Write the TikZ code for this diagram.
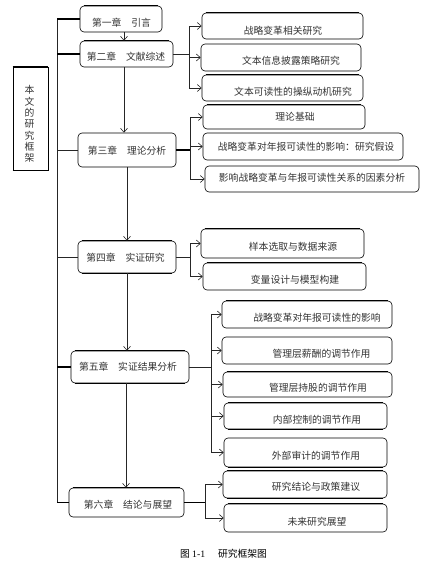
\documentclass[tikz,border=0pt]{standalone}
\usepackage{fontspec}
\newfontfamily\cjk{Noto Sans CJK SC}
\newfontfamily\serifdig{Liberation Serif}
\usetikzlibrary{arrows.meta}
\tikzset{
  box/.style={draw=black, line width=0.6pt, rounded corners=4pt, inner sep=0pt},
  txt/.style={font=\cjk\fontsize{9.8}{11}\selectfont, text=black!80, inner sep=0pt},
  ln/.style={line width=0.6pt, draw=black!85},
  thk/.style={line width=1.5pt, draw=black},
  arr/.style={ln, -{Straight Barb[length=4pt,width=7pt]}},
}
\begin{document}
\begin{tikzpicture}[x=1pt,y=-1pt]
\useasboundingbox (0,0) rectangle (436,565);

% left frame box
\node[box, rounded corners=0pt, minimum width=35pt, minimum height=103pt] (L) at (30.5,118.5) {};
\node[txt, align=center, font=\cjk\fontsize{9.8}{11.3}\selectfont] (Lt) at (29.5,124) {本\\文\\的\\研\\究\\框\\架};

% chapter boxes
\node[box, minimum width=82pt, minimum height=26pt] (c1) at (121,19) {};
\node[box, minimum width=93pt, minimum height=26pt] (c2) at (126.5,54) {};
\node[box, minimum width=98pt, minimum height=34pt] (c3) at (127,150) {};
\node[box, minimum width=98pt, minimum height=32pt] (c4) at (127,257) {};
\node[box, minimum width=118pt, minimum height=32pt] (c5) at (130,367) {};
\node[box, minimum width=115pt, minimum height=29pt] (c6) at (126.5,502.5) {};
\node[txt] (t1) at (121.5,23) {第一章\hspace{1em}引言};
\node[txt] (t2) at (126,57) {第二章\hspace{1em}文献综述};
\node[txt] (t3) at (127,151) {第三章\hspace{1em}理论分析};
\node[txt] (t4) at (125.5,258) {第四章\hspace{1em}实证研究};
\node[txt] (t5) at (128,367) {第五章\hspace{1em}实证结果分析};
\node[txt] (t6) at (128,505) {第六章\hspace{1em}结论与展望};

% right boxes
\node[box, minimum width=161pt, minimum height=26pt] (r1) at (282.5,26) {};
\node[box, minimum width=160pt, minimum height=27pt] (r2) at (281,57.5) {};
\node[box, minimum width=161pt, minimum height=26pt] (r3) at (282.5,88) {};
\node[box, minimum width=162pt, minimum height=24pt] (r4) at (284,117) {};
\node[box, minimum width=200pt, minimum height=27pt] (r5) at (303,146.5) {};
\node[box, minimum width=214pt, minimum height=26pt] (r6) at (312,179) {};
\node[box, minimum width=163pt, minimum height=29pt] (r7) at (282.5,243.5) {};
\node[box, minimum width=163pt, minimum height=27pt] (r8) at (284.5,276.5) {};
\node[box, minimum width=170pt, minimum height=27pt] (r9) at (307,314.5) {};
\node[box, minimum width=170pt, minimum height=27pt] (r10) at (307,350.5) {};
\node[box, minimum width=169pt, minimum height=25pt] (r11) at (307.5,384.5) {};
\node[box, minimum width=163pt, minimum height=26pt] (r12) at (305.5,416) {};
\node[box, minimum width=163pt, minimum height=29pt] (r13) at (305.5,452.5) {};
\node[box, minimum width=164pt, minimum height=27pt] (r14) at (305,484.5) {};
\node[box, minimum width=163pt, minimum height=28pt] (r15) at (305.5,518) {};

\node[txt] (s1) at (283,31) {战略变革相关研究};
\node[txt] (s2) at (291,61) {文本信息披露策略研究};
\node[txt] (s3) at (293,92) {文本可读性的操纵动机研究};
\node[txt] (s4) at (295,117) {理论基础};
\node[txt] (s5) at (306,147) {战略变革对年报可读性的影响：研究假设};
\node[txt] (s6) at (312,178) {影响战略变革与年报可读性关系的因素分析};
\node[txt] (s7) at (293,247) {样本选取与数据来源};
\node[txt] (s8) at (295,280) {变量设计与模型构建};
\node[txt] (s9) at (317,318) {战略变革对年报可读性的影响};
\node[txt] (s10) at (321.5,354) {管理层薪酬的调节作用};
\node[txt] (s11) at (318,388) {管理层持股的调节作用};
\node[txt] (s12) at (317,420) {内部控制的调节作用};
\node[txt] (s13) at (316,456) {外部审计的调节作用};
\node[txt] (s14) at (316,487) {研究结论与政策建议};
\node[txt] (s15) at (317,522) {未来研究展望};

% thick top edges
\foreach \n in {c1,c2,c4,c5,c6,r1,r3,r4,r7,r8,r9,r11,r12,r14,r15}{
  \draw[thk] ([xshift=4pt]\n.north west) -- ([xshift=-4pt]\n.north east);
}
% thick bottom edges
\foreach \n in {c4,c5,r12,r13,r14}{
  \draw[thk] ([xshift=4pt]\n.south west) -- ([xshift=-4pt]\n.south east);
}
\draw[line width=1.5pt] (L.north west) -- (L.north east);
\draw[line width=1.5pt] (L.south west) -- (L.south east);

% spine on the left
\coordinate (sp) at (57,0);
\draw[ln] (sp|-c1.west) -- (sp|-c6.west);
\draw[thk] (sp|-c1.west) -- (c1.west);
\draw[thk] (sp|-c2.west) -- (c2.west);
\draw[ln] (sp|-c3.west) -- (c3.west);
\draw[ln] (sp|-c4.west) -- (c4.west);
\draw[thk] (sp|-c5.west) -- (c5.west);
\draw[thk] (sp|-c6.west) -- (c6.west);

% vertical arrows between chapters
\coordinate (a1) at (124,0);
\coordinate (a2) at (127,0);
\coordinate (a3) at (126,0);
\draw[arr] (c1.south-|a1) -- (c2.north-|a1);
\draw[arr] (c2.south-|a1) -- (c3.north-|a1);
\draw[arr] (c3.south-|a2) -- (c4.north-|a2);
\draw[arr] (c4.south-|a2) -- (c5.north-|a2);
\draw[arr] (c5.south-|a3) -- (c6.north-|a3);

% bracket chapter 2
\coordinate (b2) at (189,0);
\draw[ln] (c2.east) -- (c2.east-|b2);
\draw[ln] (b2|-r1.west) -- (b2|-r3.west);
\draw[arr] (b2|-r1.west) -- (r1.west);
\draw[arr] (b2|-r2.west) -- (r2.west);
\draw[arr] (b2|-r3.west) -- (r3.west);

% bracket chapter 3
\coordinate (b3) at (190,0);
\draw[thk] (c3.east) -- (c3.east-|b3);
\draw[ln] (b3|-r4.west) -- (b3|-r6.west);
\draw[arr] (b3|-r4.west) -- (r4.west);
\draw[arr] (b3|-r5.west) -- (r5.west);
\draw[arr] (b3|-r6.west) -- (r6.west);

% bracket chapter 4
\coordinate (b4) at (190,0);
\draw[ln] (c4.east) -- (c4.east-|b4);
\draw[ln] (b4|-r7.west) -- (b4|-r8.west);
\draw[arr] (b4|-r7.west) -- (r7.west);
\draw[arr] (b4|-r8.west) -- (r8.west);

% bracket chapter 5
\coordinate (b5) at (211,0);
\draw[ln] (c5.east) -- (c5.east-|b5);
\draw[ln] (b5|-r9.west) -- (b5|-r13.west);
\draw[arr] (b5|-r9.west) -- (r9.west);
\draw[arr] (b5|-r10.west) -- (r10.west);
\draw[arr] (b5|-r11.west) -- (r11.west);
\draw[arr] (b5|-r12.west) -- (r12.west);
\draw[arr] (b5|-r13.west) -- (r13.west);

% bracket chapter 6
\coordinate (b6) at (205,0);
\draw[thk] (c6.east) -- (c6.east-|b6);
\draw[ln] (b6|-r14.west) -- (b6|-r15.west);
\draw[arr] (b6|-r14.west) -- (r14.west);
\draw[arr] (b6|-r15.west) -- (r15.west);

% caption
\node[txt, text=black, anchor=west] (cap) at (180,554) {图 {\serifdig 1-1}\hspace{1.3em}研究框架图};
\end{tikzpicture}
\end{document}
